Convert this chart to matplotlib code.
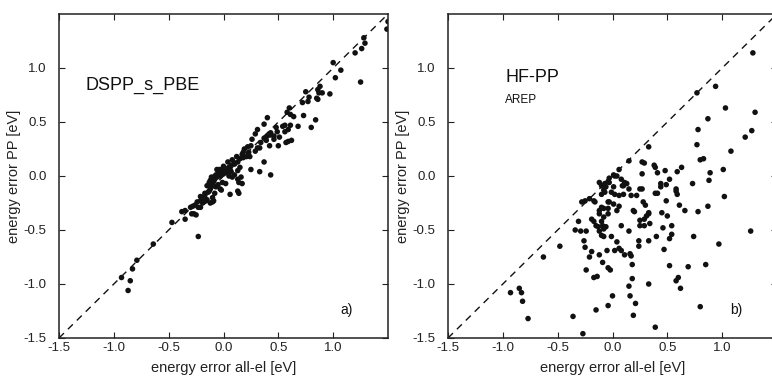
import matplotlib
matplotlib.use("Agg")
import matplotlib.pyplot as plt
import numpy as np

plt.rcParams['font.family'] = ['Liberation Sans', 'DejaVu Sans']

# panel a) DSPP_s_PBE : (all-el error, PP error) in eV
a_pts = [
    (1.50, 1.43), (1.49, 1.36), (1.28, 1.28), (1.29, 1.23), (1.26, 1.18), (1.20, 1.14), (1.25, 0.87),
    (1.00, 1.05), (1.07, 0.98), (1.02, 0.91), (0.88, 0.83), (0.86, 0.80), (0.75, 0.78), (0.78, 0.73),
    (0.87, 0.77), (0.90, 0.77), (0.97, 0.76), (0.85, 0.72), (0.72, 0.68), (0.77, 0.69), (0.86, 0.71),
    (0.73, 0.56), (0.84, 0.52), (0.80, 0.45),
    (0.60, 0.63), (0.58, 0.59), (0.61, 0.57), (0.64, 0.55), (0.68, 0.46), (0.61, 0.47), (0.56, 0.47),
    (0.59, 0.43), (0.40, 0.54), (0.37, 0.48), (0.31, 0.43), (0.29, 0.39), (0.26, 0.34), (0.37, 0.35),
    (0.40, 0.37), (0.43, 0.38), (0.46, 0.37), (0.49, 0.41), (0.56, 0.41), (0.54, 0.46), (0.48, 0.45),
    (0.43, 0.40), (0.46, 0.34), (0.39, 0.33), (0.34, 0.31), (0.31, 0.26), (0.42, 0.28), (0.59, 0.32),
    (0.62, 0.33), (0.57, 0.31), (0.51, 0.36), (0.50, 0.28),
    (0.25, 0.28), (0.22, 0.27), (0.19, 0.25), (0.18, 0.22), (0.29, 0.23), (0.33, 0.26), (0.23, 0.22),
    (0.37, 0.13), (0.33, 0.04), (0.43, 0.01), (0.24, 0.18), (0.21, 0.18), (0.17, 0.20), (0.12, 0.18),
    (0.13, 0.13), (0.10, 0.12), (0.07, 0.10), (0.04, 0.07), (0.00, 0.09), (-0.02, 0.06), (0.25, 0.06),
    (0.15, 0.16), (0.18, 0.17), (0.10, 0.11), (0.15, 0.08),
    (-0.04, 0.03), (-0.07, 0.01), (-0.11, -0.01), (-0.12, -0.04), (-0.09, -0.02), (0.07, 0.04),
    (0.13, 0.05), (0.10, 0.01), (0.16, -0.01), (0.05, 0.00), (-0.04, 0.06), (0.00, 0.03), (0.04, 0.13),
    (0.08, 0.15), (0.05, 0.08), (0.06, 0.06), (0.01, 0.05), (-0.03, 0.03), (-0.06, 0.06), (-0.09, -0.01),
    (-0.06, -0.01), (-0.03, 0.00), (0.00, 0.02), (0.03, 0.03), (0.06, 0.05), (-0.05, 0.05), (0.08, -0.01),
    (0.13, -0.03), (0.14, -0.06), (0.17, -0.07), (-0.03, -0.12), (-0.02, -0.13), (-0.09, -0.23),
    (-0.10, -0.24), (0.06, -0.17), (0.13, -0.14), (0.14, -0.16), (0.02, -0.07), (-0.08, -0.16),
    (-0.16, -0.23), (-0.21, -0.19), (-0.14, -0.15), (-0.12, -0.12), (-0.10, -0.07), (-0.09, -0.05),
    (-0.15, -0.09), (-0.17, -0.18), (-0.19, -0.21), (-0.18, -0.24), (-0.21, -0.29), (-0.24, -0.24),
    (-0.28, -0.28), (-0.29, -0.35), (-0.25, -0.36), (-0.35, -0.32), (-0.38, -0.33), (-0.35, -0.40),
    (-0.47, -0.43), (-0.30, -0.29), (-0.26, -0.27), (-0.21, -0.23), (-0.27, -0.35), (-0.23, -0.29),
    (-0.19, -0.25), (-0.17, -0.21), (-0.15, -0.22), (-0.12, -0.25), (-0.10, -0.20), (-0.17, -0.16),
    (-0.13, -0.14), (-0.07, -0.10), (-0.05, -0.08), (-0.01, -0.06), (-0.11, -0.10), (-0.13, -0.06),
    (-0.08, -0.03),
    (-0.23, -0.56), (-0.64, -0.63), (-0.79, -0.78), (-0.83, -0.86), (-0.93, -0.94), (-0.85, -0.97),
    (-0.87, -1.06),
]

# panel b) HF-PP (AREP)
b_pts = [
    (1.28, 1.14), (0.77, 0.77), (0.94, 0.83), (1.03, 0.63), (0.87, 0.53), (0.78, 0.43), (1.30, 0.59),
    (1.27, 0.42), (1.21, 0.36), (1.08, 0.23), (0.77, 0.29), (0.80, 0.15), (0.83, 0.16), (1.01, 0.06),
    (0.89, 0.03), (0.88, -0.04), (0.73, -0.07),
    (0.33, 0.27), (0.27, 0.13), (0.29, 0.12), (0.38, 0.10), (0.39, 0.08), (0.27, 0.02), (0.41, 0.03),
    (0.48, 0.05), (0.52, -0.03), (0.59, 0.04), (0.63, 0.08), (0.58, -0.12), (0.58, -0.14), (0.59, -0.17),
    (0.49, -0.08), (0.44, -0.07), (0.44, -0.10), (0.39, -0.16), (0.41, -0.16), (0.27, -0.12), (0.15, 0.14),
    (0.06, 0.06), (0.02, 0.00), (0.01, 0.01), (0.04, 0.00), (-0.03, -0.02), (0.13, -0.07), (0.09, -0.09),
    (0.11, -0.06), (0.08, -0.03), (0.10, -0.09), (0.15, -0.12), (0.17, -0.18), (0.25, -0.12), (0.22, -0.18),
    (-0.12, -0.06), (-0.10, -0.09), (-0.07, -0.07), (-0.06, -0.10), (-0.04, -0.05), (-0.03, -0.06),
    (-0.08, -0.13), (-0.07, -0.15), (-0.10, -0.17), (0.01, -0.10), (-0.01, -0.15), (0.02, -0.17),
    (0.06, -0.18), (0.10, -0.17),
    (-0.21, -0.21), (-0.17, -0.23), (-0.16, -0.24), (-0.10, -0.29), (-0.08, -0.30), (-0.12, -0.32),
    (-0.04, -0.24), (0.01, -0.26), (0.06, -0.28), (0.04, -0.32), (0.19, -0.32), (0.28, -0.24),
    (0.30, -0.27), (0.20, -0.33), (-0.28, -0.24), (-0.25, -0.23), (-0.04, -0.35), (-0.12, -0.35),
    (1.02, -0.19), (0.49, -0.23), (0.61, -0.27), (0.66, -0.32), (0.78, -0.33), (0.87, -0.28), (0.33, -0.34),
    (0.31, -0.37), (0.45, -0.34), (0.50, -0.37), (0.34, -0.44), (0.29, -0.46), (0.46, -0.48), (0.54, -0.46),
    (0.54, -0.54), (0.40, -0.56), (0.52, -0.58), (0.33, -0.60), (1.26, -0.51), (0.74, -0.56), (0.97, -0.63),
    (0.47, -0.68), (0.52, -0.83), (0.69, -0.84), (0.85, -0.82), (0.33, -1.00), (0.60, -0.94), (0.58, -0.97),
    (0.62, -1.04), (0.80, -1.21), (0.39, -1.40),
    (0.25, -0.41), (0.29, -0.40), (0.33, -0.35), (0.25, -0.46), (0.24, -0.60), (0.24, -0.65),
    (-0.93, -1.08), (-0.85, -1.04), (-0.83, -1.08), (-0.82, -1.16), (-0.77, -1.32), (-0.63, -0.75),
    (-0.48, -0.65), (-0.36, -1.30), (-0.27, -1.46), (-0.31, -0.42), (-0.34, -0.50), (-0.29, -0.51),
    (-0.24, -0.51), (-0.26, -0.60), (-0.25, -0.66), (-0.24, -0.87), (-0.21, -0.75), (-0.19, -0.70),
    (-0.17, -0.94), (-0.14, -0.93), (-0.15, -1.24), (-0.12, -0.73), (-0.09, -0.80), (-0.04, -0.85),
    (-0.02, -0.87), (-0.04, -1.20), (0.00, -1.11), (-0.05, -0.69), (0.02, -0.69), (0.06, -0.67),
    (0.08, -0.69), (0.04, -0.61), (-0.01, -0.56), (0.08, -0.46), (0.15, -0.51), (0.11, -0.73),
    (0.16, -0.72), (0.17, -0.74), (0.18, -0.82), (0.18, -0.95), (0.15, -1.02), (0.16, -1.11),
    (0.19, -1.29), (0.21, -1.18),
    (-0.19, -0.40), (-0.17, -0.42), (-0.15, -0.46), (-0.13, -0.47), (-0.12, -0.51), (-0.10, -0.55),
    (-0.08, -0.56), (-0.08, -0.38), (-0.10, -0.42), (-0.09, -0.46), (-0.08, -0.49), (-0.06, -0.47),
    (-0.04, -0.30), (-0.03, -0.24),
]

ticks = [-1.5, -1.0, -0.5, 0.0, 0.5, 1.0]
tick_labels = ['-1.5', '-1.0', '-0.5', '0.0', '0.5', '1.0']
lim = (-1.5, 1.5)

fig = plt.figure(figsize=(7.72, 3.8), dpi=100)
ax1 = fig.add_axes([59 / 772, 1 - 338 / 380, 329 / 772, 324 / 380])
ax2 = fig.add_axes([448 / 772, 1 - 338 / 380, 329 / 772, 324 / 380])

# axes, points, title, title pos, subtitle, panel tag
panels = [(ax1, a_pts, 'DSPP_s_PBE', (-1.26, 0.84), None, 'a)'),
          (ax2, b_pts, 'HF-PP', (-0.98, 0.91), 'AREP', 'b)')]

for ax, pts, title, tpos, sub, tag in panels:
    x, y = np.array(pts).T
    ax.plot(lim, lim, color='#111111', lw=1.0, ls=(0, (5, 4)), zorder=1)
    ax.scatter(x, y, s=16, color='#111111', edgecolors='none', zorder=2)
    ax.set_xlim(lim)
    ax.set_ylim(lim)
    ax.set_xticks(ticks)
    ax.set_xticklabels(tick_labels)
    ax.set_yticks(ticks)
    ax.set_yticklabels(tick_labels)
    ax.tick_params(direction='in', length=4, width=0.8, top=True, right=True,
                   labelsize=9.5, colors='#222222')
    ax.tick_params(axis='x', pad=3)
    ax.tick_params(axis='y', pad=9)
    for sp in ax.spines.values():
        sp.set_linewidth(1.1)
        sp.set_color('#222222')
    ax.set_xlabel('energy error all-el [eV]', fontsize=10.5, color='#222222')
    ax.set_ylabel('energy error PP [eV]', fontsize=10.5, color='#222222')
    ax.xaxis.set_label_coords(0.5, -0.07)
    ax.yaxis.set_label_coords(-0.115, 0.5)
    ax.text(tpos[0], tpos[1], title, fontsize=13, color='#111111', va='center')
    if sub:
        ax.text(tpos[0], 0.70, sub, fontsize=8.5, color='#111111', va='center')
    ax.text(1.07, -1.24, tag, fontsize=10, color='#111111', va='center')

fig.savefig('out.png', dpi=100)
